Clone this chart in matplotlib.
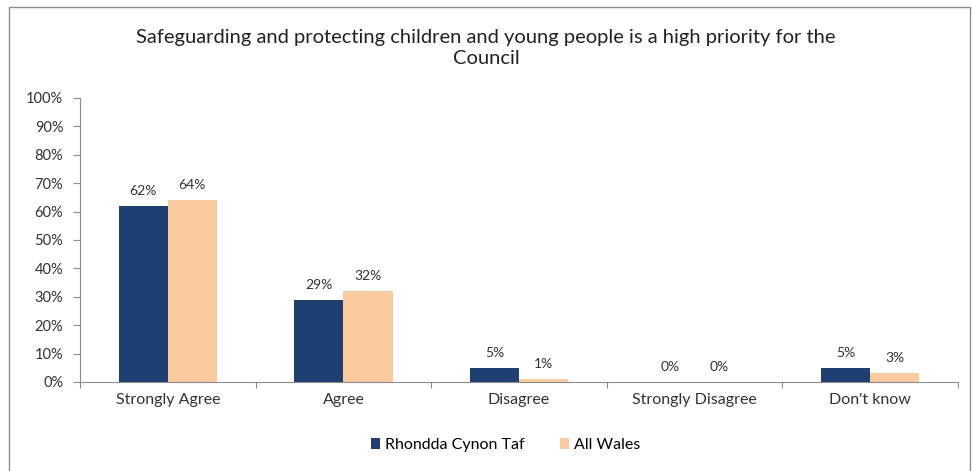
import matplotlib
matplotlib.use('Agg')
import matplotlib.pyplot as plt
import numpy as np
from matplotlib.patches import Rectangle

# data
categories = ['Strongly Agree', 'Agree', 'Disagree', 'Strongly Disagree', "Don't know"]
rct = [62, 29, 5, 0, 5]
wales = [64, 32, 1, 0, 3]
series_names = ['Rhondda Cynon Taf', 'All Wales']
title = 'Safeguarding and protecting children and young people is a high priority for the\nCouncil'

plt.rcParams['font.family'] = ['Lato', 'DejaVu Sans']

fig = plt.figure(figsize=(9.72, 4.71), dpi=100)
ax = fig.add_axes([0.0823, 0.189, 0.9033, 0.603])

# frame around the whole chart
fig.patches.append(Rectangle((0.009, -0.01), 0.989, 0.995, transform=fig.transFigure,
                             fill=False, edgecolor='#8c8c8c', linewidth=1.0))

x = np.arange(len(categories))
w = 0.28
b1 = ax.bar(x - w/2, rct, w, color='#1f3f73', label=series_names[0])
b2 = ax.bar(x + w/2, wales, w, color='#fbcba0', label=series_names[1])

for bars, vals in ((b1, rct), (b2, wales)):
    for bar, v in zip(bars, vals):
        ax.text(bar.get_x() + bar.get_width()/2, v + 3.2, '%d%%' % v,
                ha='center', va='bottom', fontsize=10, color='#333333')

ax.set_xlim(-0.5, len(categories) - 0.5)
ax.set_ylim(0, 100)
ax.set_yticks(range(0, 101, 10))
ax.set_yticklabels(['%d%%' % t for t in range(0, 101, 10)], fontsize=10.5, color='#333333')

# category labels in the middle, ticks at the boundaries
ax.set_xticks(np.arange(len(categories) + 1) - 0.5)
ax.set_xticklabels([''] * (len(categories) + 1))
ax.set_xticks(x, minor=True)
ax.set_xticklabels(categories, minor=True, fontsize=11.5, color='#333333')
ax.tick_params(axis='x', which='minor', length=0, pad=8)
ax.tick_params(axis='x', which='major', length=4, direction='out', color='#8c8c8c')
ax.tick_params(axis='y', length=5, direction='out', color='#8c8c8c', pad=7)

for s in ('top', 'right'):
    ax.spines[s].set_visible(False)
for s in ('left', 'bottom'):
    ax.spines[s].set_color('#8c8c8c')

fig.text(0.5, 0.898, title, ha='center', va='center', fontsize=14.5,
         color='#222222', linespacing=1.3)

fig.legend(handles=[b1, b2], loc='center', bbox_to_anchor=(0.52, 0.055), ncol=2,
           frameon=False, fontsize=11.5, handlelength=0.6, handleheight=0.6,
           handletextpad=0.3, columnspacing=2.2)

fig.savefig('out.png', dpi=100)
